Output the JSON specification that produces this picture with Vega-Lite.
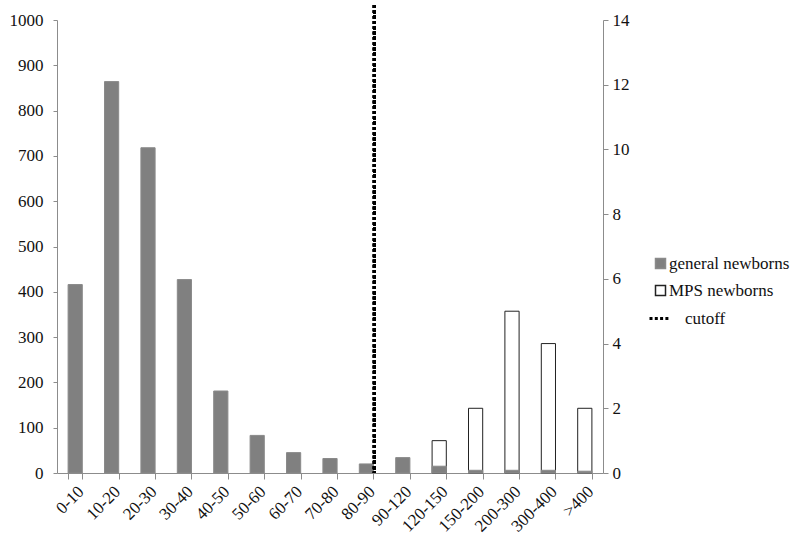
{
  "$schema": "https://vega.github.io/schema/vega-lite/v6.json",
  "width": 546,
  "height": 453,
  "autosize": {"type": "none"},
  "padding": {"left": 57, "top": 20, "right": 197, "bottom": 71},
  "background": "white",
  "config": {
    "font": "Times New Roman, Liberation Serif, serif",
    "view": {"stroke": null}
  },
  "data": {"values": [
    {"bin": "0-10", "general": 416, "mps": null},
    {"bin": "10-20", "general": 864, "mps": null},
    {"bin": "20-30", "general": 718, "mps": null},
    {"bin": "30-40", "general": 427, "mps": null},
    {"bin": "40-50", "general": 181, "mps": null},
    {"bin": "50-60", "general": 83, "mps": null},
    {"bin": "60-70", "general": 45, "mps": null},
    {"bin": "70-80", "general": 32, "mps": null},
    {"bin": "80-90", "general": 20, "mps": null},
    {"bin": "90-120", "general": 34, "mps": null},
    {"bin": "120-150", "general": 15, "mps": 1},
    {"bin": "150-200", "general": 6, "mps": 2},
    {"bin": "200-300", "general": 6, "mps": 5},
    {"bin": "300-400", "general": 6, "mps": 4},
    {"bin": ">400", "general": 4, "mps": 2}
  ]},
  "layer": [
    {
      "mark": {"type": "bar", "strokeWidth": 1},
      "encoding": {
        "x": {"field": "bin", "type": "nominal",
              "scale": {"domain": ["0-10","10-20","20-30","30-40","40-50","50-60","60-70","70-80","80-90","90-120","120-150","150-200","200-300","300-400",">400"], "paddingInner": 0.61, "paddingOuter": 0.305},
              "axis": {"title": null, "grid": false, "labelFont": "Times New Roman, Liberation Serif, serif", "labelFontSize": 17, "labelColor": "#111", "domainColor": "#8c8c8c", "tickColor": "#8c8c8c", "labelAngle": -45, "tickBand": "extent", "tickSize": 6, "labelPadding": 4, "orient": "bottom"}},
        "y": {"field": "mps", "type": "quantitative",
              "scale": {"domain": [0, 14], "nice": false},
              "axis": {"title": null, "grid": false, "labelFont": "Times New Roman, Liberation Serif, serif", "labelFontSize": 17, "labelColor": "#111", "domainColor": "#8c8c8c", "tickColor": "#8c8c8c", "orient": "right", "values": [0, 2, 4, 6, 8, 10, 12, 14], "tickSize": 5, "labelPadding": 4}},
        "fill": {"datum": "MPS newborns", "type": "nominal",
                 "scale": {"domain": ["general newborns", "MPS newborns"], "range": ["#808080", "#ffffff"]},
                 "legend": {
                   "title": null, "orient": "none", "legendX": 595, "legendY": 235,
                   "labelFont": "Times New Roman, Liberation Serif, serif", "labelFontSize": 17, "labelColor": "#111",
                   "symbolSize": 100, "symbolType": "square", "rowPadding": 9, "labelOffset": 0
                 }},
        "stroke": {"datum": "MPS newborns", "type": "nominal",
                   "scale": {"domain": ["general newborns", "MPS newborns"], "range": ["#8a8a8a", "#222222"]},
                   "legend": {
                   "title": null, "orient": "none", "legendX": 595, "legendY": 235,
                   "labelFont": "Times New Roman, Liberation Serif, serif", "labelFontSize": 17, "labelColor": "#111",
                   "symbolSize": 100, "symbolType": "square", "rowPadding": 9, "labelOffset": 0
                 }}
      }
    },
    {
      "layer": [
        {
          "mark": {"type": "bar", "strokeWidth": 1},
          "encoding": {
            "x": {"field": "bin", "type": "nominal"},
            "y": {"field": "general", "type": "quantitative",
                  "scale": {"domain": [0, 1000], "nice": false},
                  "axis": {"title": null, "grid": false, "labelFont": "Times New Roman, Liberation Serif, serif", "labelFontSize": 17, "labelColor": "#111", "domainColor": "#8c8c8c", "tickColor": "#8c8c8c", "orient": "left", "format": "d", "values": [0, 100, 200, 300, 400, 500, 600, 700, 800, 900, 1000], "tickSize": 4, "labelPadding": 10}},
            "fill": {"datum": "general newborns", "type": "nominal"},
            "stroke": {"datum": "general newborns", "type": "nominal"}
          }
        },
        {
          "mark": {"type": "rule", "color": "#000", "strokeWidth": 3, "xOffset": 8},
          "encoding": {
            "x": {"datum": "80-90", "type": "nominal"},
            "y": {"datum": 1033, "type": "quantitative"},
            "y2": {"datum": 0},
            "strokeDash": {"datum": "cutoff", "type": "nominal",
                           "scale": {"domain": ["cutoff"], "range": [[3, 2.3]]},
                           "legend": {
                             "title": null, "orient": "none", "legendX": 591, "legendY": 287,
                             "labelFont": "Times New Roman, Liberation Serif, serif", "labelFontSize": 17, "labelColor": "#111",
                             "symbolType": "stroke", "symbolSize": 400, "symbolStrokeWidth": 3, "symbolStrokeColor": "#000",
                             "labelOffset": 14
                           }}
          }
        }
      ]
    }
  ],
  "resolve": {"scale": {"y": "independent"}}
}
